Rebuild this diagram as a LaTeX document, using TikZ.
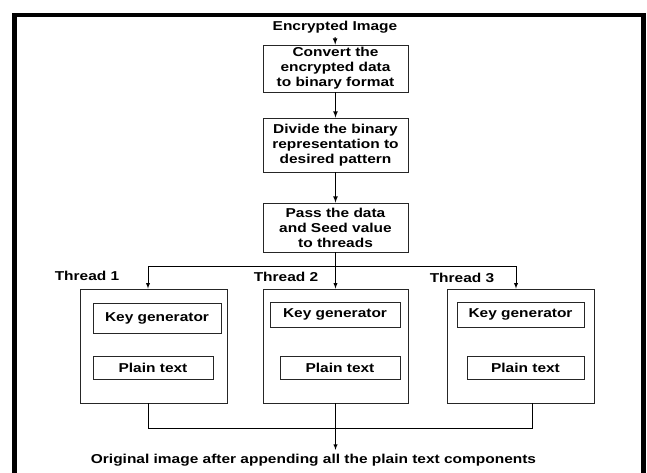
\documentclass[tikz,border=0pt]{standalone}
\usepackage{fontspec}
\setmainfont[FakeStretch=1.2]{Liberation Sans}
\begin{document}
\begin{tikzpicture} [
            x=0.03cm, y=-0.03cm,
            every node/.style = {font=\fontsize{11}{12.8}\selectfont\bfseries, align=center},
            stepbox/.style = {draw=black!85, line width=0.8pt, inner sep=0pt},
            thread/.style = {draw=black!85, line width=0.8pt, minimum width=4.41cm, minimum height=3.42cm},
        ]
            \useasboundingbox (0,0) rectangle (647,472);

            % frame
            \draw[line width=3.8pt] (14.5,475) -- (14.5,15) -- (643.5,15) -- (643.5,475);

            \node (In)   at (335, 27) {Encrypted Image};
            \node[stepbox, minimum width=4.35cm, minimum height=1.41cm] (Conv) at (335.5, 68.5)
                {Convert the\\encrypted data\\to binary format};
            \node[stepbox, minimum width=4.35cm, minimum height=1.62cm] (Div) at (335.5, 145)
                {Divide the binary\\representation to\\desired pattern};
            \node[stepbox, minimum width=4.35cm, minimum height=1.47cm] (Pass) at (335.5, 227.5)
                {Pass the data\\and Seed value\\to threads};

            \node (L1) at (87, 276) {Thread 1};
            \node (L2) at (286, 277) {Thread 2};
            \node (L3) at (462, 278) {Thread 3};

            \node[thread, minimum width=4.41cm] (T1) at (153.5, 346) {};
            \node[thread, minimum width=4.35cm] (T2) at (335.5, 346) {};
            \node[thread, minimum width=4.41cm] (T3) at (520.5, 346) {};

            \node[stepbox, minimum width=3.84cm, minimum height=0.9cm] (K1) at (157, 318) {Key generator};
            \node[stepbox, minimum width=3.9cm, minimum height=0.75cm] (K2) at (335, 314.5) {Key generator};
            \node[stepbox, minimum width=3.81cm, minimum height=0.75cm] (K3) at (520.5, 314.5) {Key generator};

            \node[stepbox, minimum width=3.6cm, minimum height=0.69cm] (P1) at (153, 367.5) {Plain text};
            \node[stepbox, minimum width=3.6cm, minimum height=0.69cm] (P2) at (340, 367.5) {Plain text};
            \node[stepbox, minimum width=3.51cm, minimum height=0.69cm] (P3) at (525.5, 367.5) {Plain text};

            \node (Out) at (313.5, 460) {Original image after appending all the plain text components};

            \coordinate (S1) at (148, 266);
            \coordinate (S2) at (335.5, 266);
            \coordinate (S3) at (516, 266);
            \coordinate (M1) at (148, 428);
            \coordinate (M3) at (532, 428);

            \draw[thick,-latex] (In) -- (Conv);
            \draw[thick,-latex] (Conv) -- (Div);
            \draw[thick,-latex] (Div) -- (Pass);
            \draw[semithick] (Pass) -- (S2);
            \draw[semithick] (S1) -- (S3);
            \draw[semithick,-latex] (S1) -- (S1 |- T1.north);
            \draw[semithick,-latex] (S2) -- (T2);
            \draw[semithick,-latex] (S3) -- (S3 |- T3.north);
            \draw[semithick] (M1 |- T1.south) -- (M1) -- (M3) -- (M3 |- T3.south);
            \draw[semithick,-latex] (T2.south) -- (T2.south |- Out.north);
        \end{tikzpicture}
\end{document}
